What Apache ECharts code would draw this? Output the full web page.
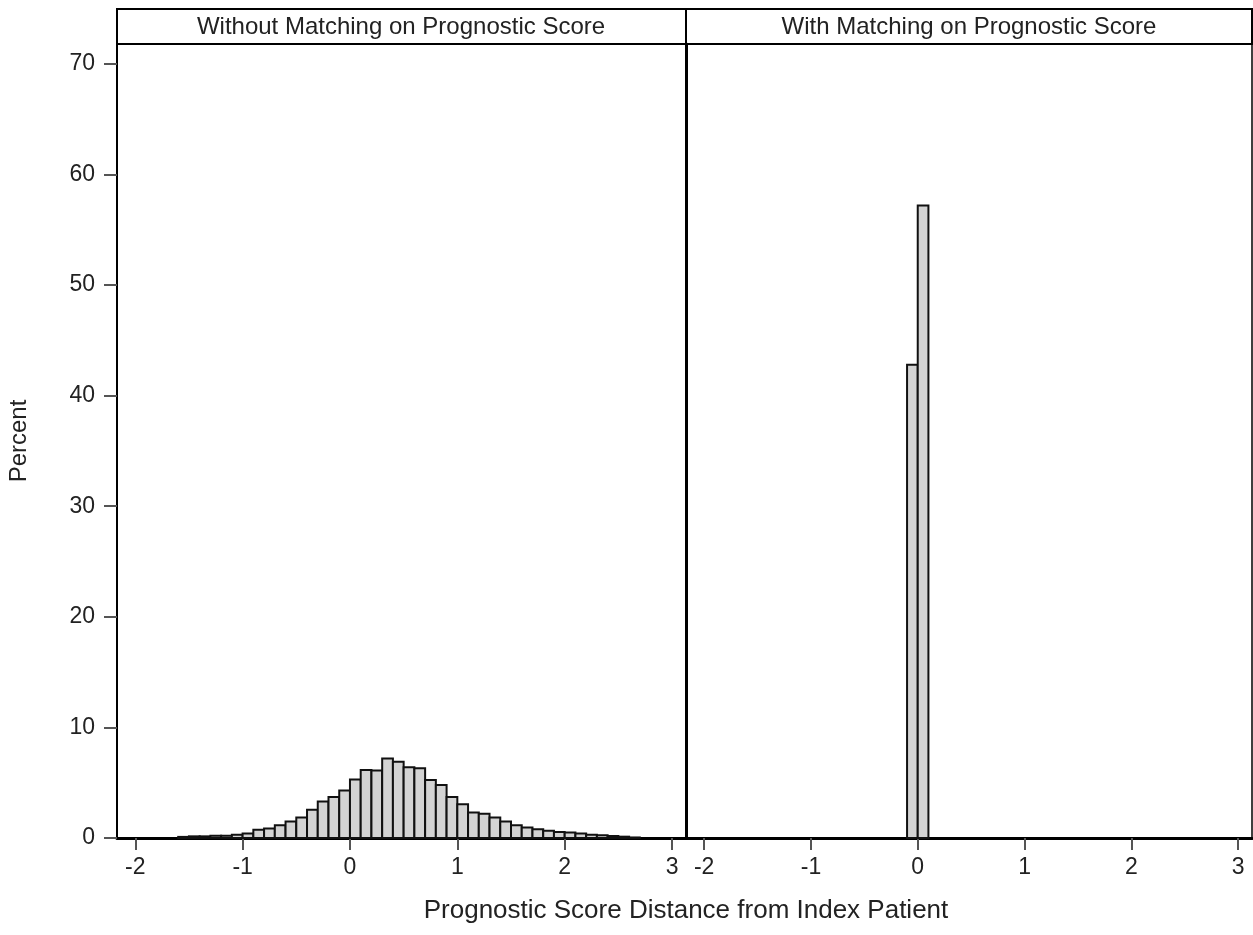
<!DOCTYPE html>
<html>
<head>
<meta charset="utf-8">
<script src="https://cdn.jsdelivr.net/npm/echarts@6/dist/echarts.min.js"></script>
<style>
  html, body {margin: 0; padding: 0; background: #fff;}
  #chart {width: 1253px; height: 935px;}
</style>
</head>
<body>
<div id="chart"></div>
<script>
// histogram bins are 0.1 wide, values are percent of patients
const BIN_WIDTH = 0.1;
const panelTitles = ["Without Matching on Prognostic Score", "With Matching on Prognostic Score"];
const xTicks = [-2, -1, 0, 1, 2, 3];
const yTicks = [0, 10, 20, 30, 40, 50, 60, 70];

const unmatchedBinStart = [
  -1.6, -1.5, -1.4, -1.3, -1.2, -1.1, -1.0, -0.9, -0.8, -0.7, -0.6, -0.5, -0.4, -0.3, -0.2, -0.1,
  0.0, 0.1, 0.2, 0.3, 0.4, 0.5, 0.6, 0.7, 0.8, 0.9,
  1.0, 1.1, 1.2, 1.3, 1.4, 1.5, 1.6, 1.7, 1.8, 1.9, 2.0, 2.1, 2.2, 2.3, 2.4, 2.5, 2.6
];
const unmatchedPercent = [
  0.1, 0.15, 0.15, 0.2, 0.2, 0.3, 0.4, 0.75, 0.85, 1.15, 1.5, 1.85, 2.55, 3.3, 3.7, 4.3,
  5.3, 6.15, 6.1, 7.2, 6.9, 6.4, 6.3, 5.25, 4.8, 3.7,
  3.05, 2.3, 2.2, 1.85, 1.5, 1.15, 0.95, 0.8, 0.65, 0.55, 0.5, 0.4, 0.3, 0.25, 0.18, 0.12, 0.05
];
const matchedBinStart = [-0.1, 0.0];
const matchedPercent = [42.8, 57.2];

const X_MIN = -2.17, X_MAX = 3.13, Y_MAX = 71.8;
const FONT = "'Liberation Sans', Arial, sans-serif";

function histBar(params, api) {
  const x0 = api.value(0);
  const y = api.value(1);
  const base = api.coord([x0, 0]);
  const top = api.coord([x0 + BIN_WIDTH, y]);
  return {
    type: "rect",
    shape: {x: base[0], y: top[1], width: top[0] - base[0], height: base[1] - top[1]},
    style: {fill: "#d3d3d3", stroke: "#111", lineWidth: 2}
  };
}

function xAxisFor(gridIndex) {
  return {
    type: "value",
    gridIndex,
    min: X_MIN,
    max: X_MAX,
    axisLine: {show: true, onZero: false, lineStyle: {color: "#000", width: 3}},
    axisTick: {show: true, customValues: xTicks, length: 12, lineStyle: {color: "#555", width: 2}},
    axisLabel: {customValues: xTicks, fontSize: 23, fontFamily: FONT, color: "#222", margin: 18},
    splitLine: {show: false}
  };
}

const chart = echarts.init(document.getElementById("chart"));
chart.setOption({
  animation: false,
  grid: [
    {left: 117, top: 44, width: 569, height: 794, show: true, borderColor: "#000", borderWidth: 1.5},
    {left: 686, top: 44, width: 566, height: 794, show: true, borderColor: "#000", borderWidth: 1.5}
  ],
  xAxis: [xAxisFor(0), xAxisFor(1)],
  yAxis: [
    {
      type: "value",
      gridIndex: 0,
      min: 0,
      max: Y_MAX,
      name: "Percent",
      nameLocation: "middle",
      nameRotate: 90,
      nameGap: 86,
      nameTextStyle: {fontSize: 24, fontFamily: FONT, color: "#222"},
      axisLine: {show: true, onZero: false, lineStyle: {color: "#000", width: 2}},
      axisTick: {show: true, customValues: yTicks, length: 13, lineStyle: {color: "#555", width: 2}},
      axisLabel: {customValues: yTicks, fontSize: 23, fontFamily: FONT, color: "#222", margin: 22},
      splitLine: {show: false}
    },
    {
      type: "value",
      gridIndex: 1,
      min: 0,
      max: Y_MAX,
      axisLine: {show: true, onZero: false, lineStyle: {color: "#000", width: 3}},
      axisTick: {show: false},
      axisLabel: {show: false},
      splitLine: {show: false}
    }
  ],
  graphic: [
    {type: "rect", shape: {x: 117, y: 9, width: 569, height: 35}, style: {fill: "#fff", stroke: "#000", lineWidth: 2}},
    {type: "rect", shape: {x: 686, y: 9, width: 566, height: 35}, style: {fill: "#fff", stroke: "#000", lineWidth: 2}},
    {type: "text", x: 401, y: 27, style: {text: panelTitles[0], font: "24px " + FONT, fill: "#222", textAlign: "center", textVerticalAlign: "middle"}},
    {type: "text", x: 969, y: 27, style: {text: panelTitles[1], font: "24px " + FONT, fill: "#222", textAlign: "center", textVerticalAlign: "middle"}},
    {type: "text", x: 686, y: 911, style: {text: "Prognostic Score Distance from Index Patient", font: "26px " + FONT, fill: "#222", textAlign: "center", textVerticalAlign: "middle"}}
  ],
  series: [
    {
      type: "custom",
      xAxisIndex: 0,
      yAxisIndex: 0,
      renderItem: histBar,
      data: unmatchedBinStart.map((x, i) => [x, unmatchedPercent[i]])
    },
    {
      type: "custom",
      xAxisIndex: 1,
      yAxisIndex: 1,
      renderItem: histBar,
      data: matchedBinStart.map((x, i) => [x, matchedPercent[i]])
    }
  ]
});
</script>
</body>
</html>
